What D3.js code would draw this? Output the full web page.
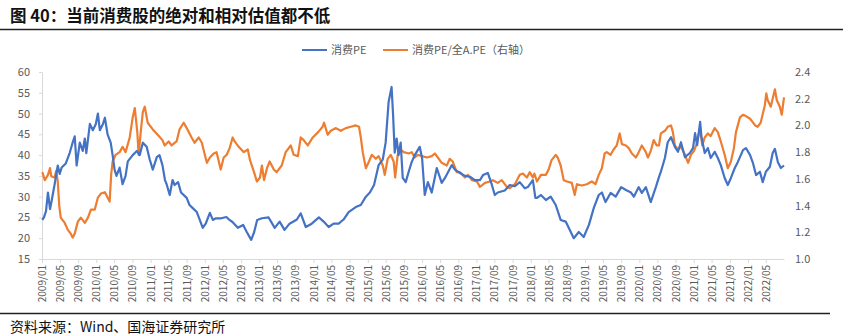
<!DOCTYPE html>
<html>
<head>
<meta charset="utf-8">
<script src="https://cdn.jsdelivr.net/npm/d3@7"></script>
<style>
  body { margin: 0; background: #fff; }
  text { font-family: "Noto Sans CJK SC", "Noto Sans", sans-serif; }
</style>
</head>
<body>
<div id="main"></div>
<script>
// 消费PE (left axis)
const consumerPE = [
  ["2009-01-03",24.4],["2009-01-14",25.0],["2009-01-28",26.5],["2009-02-10",31],["2009-02-24",27],
  ["2009-03-07",29],["2009-03-27",33],["2009-04-17",37.5],["2009-04-30",35.5],["2009-05-13",37],
  ["2009-06-10",38],["2009-07-06",40.5],["2009-07-26",43],["2009-08-09",44.5],["2009-08-22",37.5],
  ["2009-09-12",43],["2009-10-02",41],["2009-10-16",44],["2009-10-26",40.5],["2009-11-19",47.5],
  ["2009-12-09",46],["2009-12-29",47.5],["2010-01-12",50],["2010-01-25",46],["2010-02-15",47.5],
  ["2010-02-28",49],["2010-03-18",45],["2010-04-08",43],["2010-04-21",40],["2010-05-04",36.5],
  ["2010-05-17",35],["2010-06-07",37],["2010-06-27",33],["2010-07-17",35],["2010-08-01",38.5],
  ["2010-09-03",40],["2010-10-01",41],["2010-10-20",40],["2010-11-10",43],["2010-12-06",42],
  ["2010-12-26",39],["2011-01-16",36.5],["2011-02-12",39.5],["2011-03-02",40],["2011-03-22",37.6],
  ["2011-04-08",34],["2011-04-19",33],["2011-05-10",30.4],["2011-05-29",34],["2011-06-12",32.8],
  ["2011-07-05",33.5],["2011-07-25",31],["2011-09-01",29.7],["2011-09-20",28],["2011-10-10",27.3],
  ["2011-11-08",26.3],["2011-11-28",24.4],["2011-12-18",22.5],["2012-01-08",23.6],["2012-02-04",26.1],
  ["2012-02-24",24.4],["2012-03-15",24.8],["2012-04-20",24.8],["2012-05-25",25.1],["2012-06-15",24.4],
  ["2012-07-05",23.9],["2012-08-10",22.5],["2012-09-15",23.2],["2012-10-09",21.5],["2012-11-08",19.6],
  ["2012-11-28",21.5],["2012-12-18",24.4],["2013-01-19",24.8],["2013-03-05",25],["2013-04-15",22.5],
  ["2013-05-18",24],["2013-06-20",22],["2013-07-24",23.5],["2013-09-11",24.5],["2013-10-07",26],
  ["2013-11-10",22.7],["2013-12-20",23.5],["2014-02-06",25],["2014-03-10",24],["2014-04-13",22.7],
  ["2014-05-16",23.5],["2014-06-19",23.5],["2014-07-22",24.5],["2014-08-25",26.3],["2014-10-12",27.5],
  ["2014-11-15",28],["2014-12-19",30],["2015-01-15",31],["2015-02-12",32.8],["2015-03-15",37.6],
  ["2015-04-12",39],["2015-05-01",43],["2015-05-21",52.8],["2015-06-10",56.4],["2015-06-20",49.7],
  ["2015-07-01",40.6],["2015-07-14",44],["2015-07-27",40],["2015-08-10",43],["2015-08-24",34.5],
  ["2015-09-13",33.5],["2015-10-03",36],["2015-10-23",38.3],["2015-11-13",40],["2015-12-03",41.2],
  ["2015-12-16",42],["2016-01-01",39.3],["2016-01-19",30.4],["2016-02-09",33.5],["2016-03-06",31],
  ["2016-04-09",36.9],["2016-05-12",33.3],["2016-06-03",34.5],["2016-07-19",37.6],["2016-08-09",36.5],
  ["2016-09-12",35.7],["2016-10-15",35],["2016-11-18",34.8],["2016-12-21",34],["2017-01-24",34],
  ["2017-02-14",35.2],["2017-03-18",35.7],["2017-04-13",33],["2017-05-04",30.4],["2017-05-24",31],
  ["2017-07-10",31.5],["2017-08-13",32.8],["2017-09-16",32.5],["2017-10-19",33.5],["2017-11-22",32],
  ["2017-12-12",32.3],["2018-01-15",34],["2018-02-01",29.7],["2018-02-12",29.7],["2018-03-10",30.4],
  ["2018-04-13",29.2],["2018-05-15",30],["2018-06-18",28],["2018-07-21",24.4],["2018-08-24",24],
  ["2018-09-27",21.5],["2018-10-17",20],["2018-11-20",21.5],["2018-12-23",20.3],["2019-01-27",23.2],
  ["2019-03-01",27.3],["2019-04-03",30.4],["2019-04-24",31],["2019-05-19",28.7],["2019-06-22",30.9],
  ["2019-07-26",30],["2019-09-01",32.3],["2019-10-03",31.6],["2019-11-06",31],["2019-11-25",30],
  ["2019-12-28",32.3],["2020-01-18",30.9],["2020-02-14",32.3],["2020-03-18",28.7],["2020-04-21",32.3],
  ["2020-05-12",34.7],["2020-05-25",36],["2020-06-21",39.3],["2020-07-10",43.1],["2020-08-01",44.3],
  ["2020-08-27",42],["2020-09-17",40.8],["2020-10-07",43.1],["2020-11-03",39.5],["2020-12-06",40.5],
  ["2020-12-27",41.7],["2021-01-10",45.3],["2021-01-24",42.4],["2021-02-13",48],["2021-02-22",44.3],
  ["2021-03-16",40.5],["2021-04-06",41.7],["2021-04-25",39.3],["2021-05-22",40.8],["2021-06-12",39.3],
  ["2021-07-02",37.6],["2021-07-28",34.5],["2021-08-18",32.8],["2021-09-08",34.5],["2021-10-04",36.9],
  ["2021-10-24",38.3],["2021-11-28",41.2],["2021-12-18",41.7],["2022-01-15",40],["2022-02-04",38],
  ["2022-02-24",35.2],["2022-03-22",36],["2022-04-10",33.5],["2022-05-01",36],["2022-05-28",37.2],
  ["2022-06-16",40.5],["2022-07-01",41.5],["2022-07-21",38.3],["2022-08-10",36.9],["2022-08-31",37.5]
];

// 消费PE/全A.PE (right axis)
const peRatio = [
  ["2009-01-03",1.65],["2009-01-20",1.59],["2009-02-10",1.63],["2009-02-24",1.68],["2009-03-04",1.62],
  ["2009-03-27",1.61],["2009-04-07",1.66],["2009-04-17",1.58],["2009-04-27",1.40],["2009-05-07",1.31],
  ["2009-06-03",1.27],["2009-06-23",1.22],["2009-07-13",1.19],["2009-07-26",1.16],["2009-08-09",1.19],
  ["2009-08-30",1.28],["2009-09-19",1.31],["2009-10-16",1.27],["2009-11-06",1.31],["2009-11-26",1.37],
  ["2009-12-22",1.37],["2010-01-12",1.46],["2010-02-01",1.49],["2010-02-28",1.50],["2010-03-18",1.46],
  ["2010-04-01",1.43],["2010-04-11",1.63],["2010-04-21",1.73],["2010-05-11",1.78],["2010-06-07",1.80],
  ["2010-06-27",1.84],["2010-07-17",1.80],["2010-08-14",1.91],["2010-09-03",2.06],["2010-09-17",2.13],
  ["2010-10-04",1.95],["2010-10-13",1.78],["2010-10-27",1.95],["2010-11-10",2.10],["2010-11-23",2.14],
  ["2010-12-13",2.02],["2011-01-16",1.97],["2011-02-18",1.93],["2011-03-22",1.89],["2011-04-06",1.85],
  ["2011-05-03",1.88],["2011-05-22",1.85],["2011-06-25",1.88],["2011-07-15",1.97],["2011-08-12",2.02],
  ["2011-09-01",1.98],["2011-10-04",1.91],["2011-10-24",1.87],["2011-11-21",1.91],["2011-12-12",1.87],
  ["2012-01-01",1.78],["2012-01-15",1.72],["2012-02-04",1.76],["2012-03-01",1.79],["2012-03-20",1.80],
  ["2012-04-17",1.67],["2012-05-07",1.76],["2012-05-27",1.78],["2012-06-16",1.83],["2012-07-06",1.91],
  ["2012-07-20",1.88],["2012-08-16",1.84],["2012-09-19",1.80],["2012-10-16",1.82],["2012-10-31",1.74],
  ["2012-11-27",1.65],["2012-12-16",1.58],["2013-01-06",1.61],["2013-01-19",1.70],["2013-02-02",1.59],
  ["2013-02-22",1.68],["2013-03-12",1.73],["2013-04-09",1.67],["2013-04-28",1.65],["2013-06-01",1.70],
  ["2013-06-28",1.80],["2013-08-01",1.85],["2013-08-21",1.78],["2013-09-18",1.77],["2013-10-07",1.91],
  ["2013-10-27",1.89],["2013-11-23",1.85],["2013-12-27",1.91],["2014-02-01",1.95],["2014-03-03",1.99],
  ["2014-03-13",2.02],["2014-04-06",1.93],["2014-04-27",1.96],["2014-06-01",1.98],["2014-07-03",1.96],
  ["2014-08-06",1.98],["2014-09-09",1.99],["2014-10-12",2.00],["2014-11-03",1.99],["2014-11-15",1.91],
  ["2014-11-28",1.80],["2014-12-19",1.68],["2015-01-09",1.73],["2015-01-28",1.78],["2015-02-24",1.75],
  ["2015-03-15",1.77],["2015-04-12",1.70],["2015-04-25",1.63],["2015-05-15",1.75],["2015-06-04",1.78],
  ["2015-06-24",1.73],["2015-07-04",1.61],["2015-07-21",1.78],["2015-08-10",1.82],["2015-08-31",1.80],
  ["2015-10-03",1.79],["2015-10-23",1.80],["2015-11-13",1.76],["2015-12-03",1.78],["2016-01-01",1.77],
  ["2016-02-03",1.76],["2016-03-06",1.77],["2016-03-27",1.79],["2016-04-16",1.76],["2016-05-12",1.72],
  ["2016-06-15",1.70],["2016-07-05",1.75],["2016-07-25",1.73],["2016-08-21",1.65],["2016-09-12",1.65],
  ["2016-10-15",1.61],["2016-11-04",1.63],["2016-12-01",1.59],["2017-01-04",1.58],["2017-01-24",1.54],
  ["2017-02-27",1.57],["2017-04-01",1.58],["2017-04-21",1.59],["2017-05-24",1.57],["2017-06-20",1.59],
  ["2017-07-24",1.54],["2017-08-13",1.53],["2017-09-16",1.56],["2017-10-19",1.63],["2017-11-09",1.64],
  ["2017-12-06",1.61],["2017-12-25",1.65],["2018-01-15",1.61],["2018-01-25",1.64],["2018-02-12",1.58],
  ["2018-03-10",1.63],["2018-04-13",1.63],["2018-05-01",1.67],["2018-05-21",1.74],["2018-06-18",1.78],
  ["2018-07-01",1.76],["2018-07-21",1.70],["2018-08-11",1.59],["2018-09-01",1.58],["2018-10-04",1.57],
  ["2018-10-24",1.48],["2018-11-07",1.56],["2018-12-10",1.55],["2019-01-13",1.56],["2019-02-15",1.58],
  ["2019-03-13",1.56],["2019-04-03",1.63],["2019-04-24",1.68],["2019-05-13",1.79],["2019-05-27",1.80],
  ["2019-06-22",1.78],["2019-07-12",1.82],["2019-08-02",1.85],["2019-08-22",1.94],["2019-09-06",1.86],
  ["2019-10-03",1.85],["2019-10-22",1.83],["2019-11-12",1.79],["2019-12-09",1.76],["2019-12-28",1.80],
  ["2020-01-18",1.85],["2020-02-14",1.80],["2020-02-28",1.76],["2020-03-18",1.81],["2020-04-07",1.89],
  ["2020-04-27",1.85],["2020-05-12",1.85],["2020-05-25",1.94],["2020-06-21",1.96],["2020-07-10",1.99],
  ["2020-08-01",2.00],["2020-08-14",1.95],["2020-08-27",1.85],["2020-09-17",1.82],["2020-10-07",1.84],
  ["2020-11-03",1.78],["2020-11-24",1.72],["2020-12-13",1.78],["2021-01-03",1.81],["2021-01-17",1.85],
  ["2021-02-13",1.98],["2021-02-27",1.85],["2021-03-16",1.91],["2021-04-06",1.94],["2021-04-25",1.92],
  ["2021-05-22",1.98],["2021-06-12",1.95],["2021-07-02",1.88],["2021-07-28",1.78],["2021-08-18",1.68],
  ["2021-09-08",1.73],["2021-09-28",1.83],["2021-10-12",1.95],["2021-11-08",2.06],["2021-11-28",2.08],
  ["2021-12-18",2.07],["2022-01-15",2.05],["2022-02-18",2.00],["2022-03-07",1.99],["2022-03-27",2.02],
  ["2022-04-24",2.15],["2022-05-04",2.24],["2022-05-13",2.19],["2022-06-03",2.14],["2022-07-01",2.27],
  ["2022-07-13",2.19],["2022-08-03",2.14],["2022-08-16",2.08],["2022-08-31",2.21]
];

const leftTicks = [15, 20, 25, 30, 35, 40, 45, 50, 55, 60];
const rightTicks = [1.0, 1.2, 1.4, 1.6, 1.8, 2.0, 2.2, 2.4];
const seriesNames = ["消费PE", "消费PE/全A.PE（右轴）"];

const W = 856, H = 336,
      plotLeft = 42, plotRight = 784, plotTop = 72, plotBottom = 259,
      blue = "#4472C4", orange = "#ED7D31", grey = "#595959";

const parse = d3.timeParse("%Y-%m-%d");

const svg = d3.select("#main").append("svg")
    .attr("width", W)
    .attr("height", H);

// 标题
svg.append("text")
    .attr("x", 10).attr("y", 22)
    .attr("font-size", 16.5).attr("font-weight", "bold")
    .attr("fill", "#111")
    .text("图 40：当前消费股的绝对和相对估值都不低");
svg.append("line")
    .attr("x1", 0).attr("x2", 843).attr("y1", 29.5).attr("y2", 29.5)
    .attr("stroke", "#222").attr("stroke-width", 1.3);

// 尺度
const x = d3.scaleTime()
    .domain([parse("2009-01-01"), parse("2022-08-31")])
    .range([plotLeft, plotRight]);
const yL = d3.scaleLinear().domain([15, 60]).range([plotBottom, plotTop]);
const yR = d3.scaleLinear().domain([1.0, 2.4]).range([plotBottom, plotTop]);

// 坐标轴
const xAxis = d3.axisBottom(x)
    .ticks(d3.timeMonth.every(4))
    .tickFormat(d3.timeFormat("%Y/%m"))
    .tickSizeInner(4).tickSizeOuter(0);

const gx = svg.append("g")
    .attr("transform", "translate(0," + plotBottom + ")")
    .call(xAxis);
gx.select(".domain").attr("stroke", "#d9d9d9");
gx.selectAll(".tick line").attr("stroke", "#d9d9d9");
gx.selectAll(".tick text")
    .attr("fill", grey).attr("font-size", 10)
    .attr("transform", "rotate(-90)")
    .attr("text-anchor", "end")
    .attr("x", -6).attr("y", 0).attr("dy", "0.35em");

const gl = svg.append("g")
    .attr("transform", "translate(" + plotLeft + ",0)")
    .call(d3.axisLeft(yL).tickValues(leftTicks).tickSizeInner(3).tickSizeOuter(0).tickPadding(9));
gl.select(".domain").attr("stroke", "#d9d9d9");
gl.selectAll(".tick line").attr("stroke", "#d9d9d9");
gl.selectAll(".tick text").attr("fill", grey).attr("font-size", 11);

const gr = svg.append("g")
    .attr("transform", "translate(" + plotRight + ",0)")
    .call(d3.axisRight(yR).tickValues(rightTicks).tickFormat(d3.format(".1f")).tickSize(0).tickPadding(11));
gr.select(".domain").remove();
gr.selectAll(".tick text").attr("fill", grey).attr("font-size", 11);

// 折线
const lineL = d3.line().x(d => x(parse(d[0]))).y(d => yL(d[1]));
const lineR = d3.line().x(d => x(parse(d[0]))).y(d => yR(d[1]));

svg.append("path")
    .datum(peRatio)
    .attr("d", lineR)
    .attr("fill", "none").attr("stroke", orange)
    .attr("stroke-width", 2.2).attr("stroke-linejoin", "round");

svg.append("path")
    .datum(consumerPE)
    .attr("d", lineL)
    .attr("fill", "none").attr("stroke", blue)
    .attr("stroke-width", 2.2).attr("stroke-linejoin", "round");

// 图例
const legend = svg.append("g").attr("font-size", 11).attr("fill", grey);
[[302, blue], [383, orange]].forEach(function(item, i){
    legend.append("line")
        .attr("x1", item[0]).attr("x2", item[0] + 25)
        .attr("y1", 50).attr("y2", 50)
        .attr("stroke", item[1]).attr("stroke-width", 2);
    legend.append("text")
        .attr("x", item[0] + 29).attr("y", 50).attr("dy", "0.35em")
        .text(seriesNames[i]);
});

// 资料来源
svg.append("line")
    .attr("x1", 0).attr("x2", 830).attr("y1", 313.5).attr("y2", 313.5)
    .attr("stroke", "#222").attr("stroke-width", 1.3);
svg.append("text")
    .attr("x", 10).attr("y", 332)
    .attr("font-size", 14).attr("fill", "#111")
    .text("资料来源：Wind、国海证券研究所");
</script>
</body>
</html>
